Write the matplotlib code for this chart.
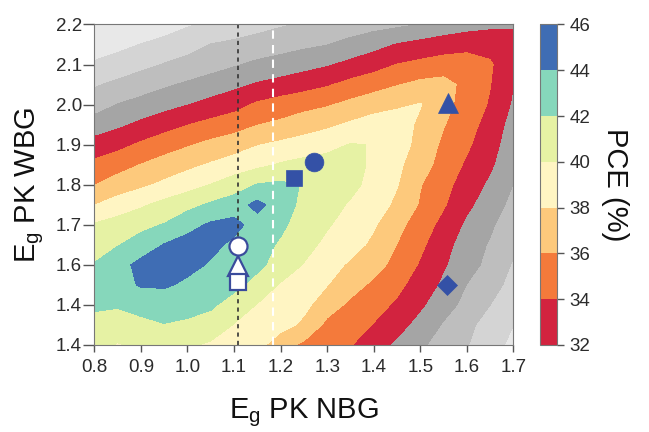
import numpy as np
import matplotlib
matplotlib.use('Agg')
import matplotlib.pyplot as plt
from matplotlib.colors import ListedColormap, BoundaryNorm
from matplotlib.cm import ScalarMappable

plt.rcParams['font.family'] = ['Liberation Sans', 'DejaVu Sans']
plt.rcParams['mathtext.fontset'] = 'custom'
plt.rcParams['mathtext.rm'] = 'Liberation Sans'
plt.rcParams['mathtext.it'] = 'Liberation Sans'

# Сетка ширин запрещённой зоны (эВ)
eg_nbg = [0.8, 0.85, 0.9, 0.95, 1.0, 1.05, 1.1, 1.15, 1.2, 1.25,
          1.3, 1.35, 1.4, 1.45, 1.5, 1.55, 1.6, 1.65, 1.7]
eg_wbg = [1.4, 1.45, 1.5, 1.55, 1.6, 1.65, 1.7, 1.75, 1.8,
          1.85, 1.9, 1.95, 2.0, 2.05, 2.1, 2.15, 2.2]

# КПД (%) по строкам eg_wbg, столбцам eg_nbg
pce = [
    [41.0, 39.8, 40.6, 40.7, 40.3, 39.7, 39.2, 38.7, 36.8, 35.6, 34.9, 34.1, 32.9, 31.6, 30.4, 29.0, 28.1, 26.8, 25.5],
    [41.6, 41.5, 41.7, 41.95, 41.8, 41.2, 39.9, 39.1, 38.7, 37.6, 35.5, 34.8, 33.9, 32.7, 31.3, 29.8, 28.6, 27.0, 26.0],
    [42.2, 42.1, 42.4, 42.6, 42.4, 42.3, 41.2, 39.9, 39.2, 38.5, 36.9, 35.6, 34.7, 33.7, 32.3, 30.8, 29.4, 28.0, 26.8],
    [42.5, 43.2, 44.2, 44.3, 43.6, 43.0, 42.5, 41.4, 39.8, 38.9, 38.05, 36.8, 35.6, 34.5, 33.1, 31.6, 29.95, 28.7, 27.4],
    [42.1, 43.2, 44.6, 45.0, 44.6, 43.8, 43.1, 42.4, 41.3, 39.9, 38.8, 37.7, 36.8, 35.3, 33.8, 32.2, 30.8, 29.4, 27.8],
    [41.2, 41.9, 42.8, 44.1, 44.8, 44.5, 43.6, 42.6, 41.8, 40.7, 39.5, 38.7, 37.6, 35.95, 34.4, 32.7, 31.0, 29.8, 28.5],
    [40.2, 40.8, 41.5, 42.1, 43.3, 44.3, 44.6, 43.2, 42.3, 41.3, 40.2, 39.2, 38.2, 36.6, 35.0, 33.4, 31.6, 30.3, 28.8],
    [37.95, 38.9, 39.7, 40.6, 41.4, 42.3, 43.0, 44.6, 42.9, 41.5, 40.7, 39.8, 38.9, 37.6, 35.8, 34.2, 32.4, 31.0, 29.4],
    [35.95, 36.9, 37.6, 38.4, 39.2, 40.05, 41.0, 42.1, 42.4, 41.9, 41.2, 40.5, 39.4, 38.1, 36.1, 34.6, 33.1, 31.6, 29.95],
    [34.5, 35.2, 36.05, 36.8, 37.5, 38.2, 38.9, 39.5, 40.2, 40.6, 40.8, 40.6, 39.7, 38.4, 36.9, 35.2, 33.7, 32.3, 30.5],
    [32.7, 33.4, 34.3, 35.1, 35.8, 36.5, 37.1, 37.9, 38.4, 38.9, 39.4, 40.1, 39.95, 39.0, 37.3, 35.6, 34.3, 32.8, 30.8],
    [31.0, 31.6, 32.4, 33.2, 33.95, 34.6, 35.1, 35.95, 36.4, 37.0, 37.6, 38.3, 38.9, 39.0, 37.6, 36.1, 34.8, 33.2, 31.2],
    [29.0, 30.05, 30.7, 31.3, 31.95, 32.6, 33.3, 34.3, 34.9, 35.4, 35.8, 36.5, 37.2, 37.7, 38.1, 36.6, 35.2, 33.8, 31.7],
    [27.8, 28.4, 29.0, 29.7, 30.3, 30.9, 31.5, 32.2, 32.7, 33.2, 33.8, 34.6, 35.2, 35.9, 36.5, 36.7, 35.4, 34.05, 32.05],
    [26.3, 26.9, 27.5, 28.1, 28.6, 29.2, 29.8, 30.4, 30.8, 31.3, 31.8, 32.5, 33.2, 34.05, 34.5, 34.9, 35.0, 34.2, 32.6],
    [24.8, 25.4, 26.05, 26.6, 27.3, 28.05, 28.4, 28.8, 29.2, 29.6, 29.95, 30.6, 31.3, 32.1, 32.6, 33.0, 33.3, 33.4, 33.0],
    [23.3, 24.0, 24.6, 25.1, 25.8, 26.3, 26.8, 27.3, 27.8, 28.2, 28.6, 28.9, 29.3, 29.6, 30.05, 30.7, 31.2, 31.5, 31.7],
]

levels = [20, 26, 28, 30, 32, 34, 36, 38, 40, 42, 44, 46]
gray_colors = ['#e8e8e8', '#d4d4d4', '#bebebe', '#a5a5a5']
pce_colors = ['#d2233f', '#f47a3b', '#fdc97c', '#fff5c3', '#e6f2a4', '#86d7bb', '#3f6db4']
cb_ticks = [32, 34, 36, 38, 40, 42, 44, 46]

# Отмеченные устройства
blue_x = [1.56, 1.272, 1.229, 1.557]
blue_y = [2.003, 1.856, 1.816, 1.55]
blue_marks = ['^', 'o', 's', 'D']
blue_sizes = [14.5, 13.5, 11.5, 10.5]
white_x = [1.108, 1.108, 1.108]
white_y = [1.647, 1.597, 1.556]
white_marks = ['o', '^', 's']
white_sizes = [13, 14, 11.5]

nbg_dotted = 1.108
nbg_dashed = 1.183

xticks = [0.8, 0.9, 1.0, 1.1, 1.2, 1.3, 1.4, 1.5, 1.6, 1.7]
yticks = [1.4, 1.5, 1.6, 1.7, 1.8, 1.9, 2.0, 2.1, 2.2]
ytick_labels = ['1.4', '1.4', '1.6', '1.7', '1.8', '1.9', '2.0', '2.1', '2.2']

txt = '#2b2b2b'
fig = plt.figure(figsize=(6.49, 4.32), dpi=100)
ax = fig.add_axes([0.1453, 0.2014, 0.6459, 0.7419])

ax.contourf(eg_nbg, eg_wbg, np.array(pce), levels=levels, colors=gray_colors + pce_colors)

ax.axvline(nbg_dotted, color='#333333', lw=1.2, linestyle=(0, (2.5, 2.5)))
ax.axvline(nbg_dashed, color='white', lw=1.5, linestyle=(0, (4, 3)))

for x, y, m, s in zip(blue_x, blue_y, blue_marks, blue_sizes):
    ax.plot(x, y, m, ms=s, color='#3451a6', mec='#3451a6', mew=0.5)
for x, y, m, s in zip(white_x, white_y, white_marks, white_sizes):
    ax.plot(x, y, m, ms=s, mfc='white', mec='#3a4b9c', mew=1.6)

ax.set_xlim(0.8, 1.7)
ax.set_ylim(1.4, 2.2)
ax.set_xticks(xticks)
ax.set_xticklabels([f'{v:.1f}' for v in xticks])
ax.set_yticks(yticks)
ax.set_yticklabels(ytick_labels)
ax.tick_params(axis='x', direction='out', length=5, width=1, color='#555555',
               labelsize=13.5, labelcolor=txt, pad=5)
ax.tick_params(axis='y', direction='out', length=8, width=1, color='#555555',
               labelsize=13.5, labelcolor=txt, pad=1)
for sp in ax.spines.values():
    sp.set_color('#777777')
    sp.set_linewidth(0.8)

ax.set_xlabel(r'$\mathregular{E_g}$ PK NBG', fontsize=21, color='#111111', labelpad=15)
ax.set_ylabel(r'$\mathregular{E_g}$ PK WBG', fontsize=21, color='#111111', labelpad=7)

# Цветовая шкала
cax = fig.add_axes([0.832, 0.2014, 0.0262, 0.7419])
sm = ScalarMappable(norm=BoundaryNorm(cb_ticks, len(pce_colors)), cmap=ListedColormap(pce_colors))
cb = fig.colorbar(sm, cax=cax, ticks=cb_ticks)
cb.outline.set_edgecolor('#777777')
cb.outline.set_linewidth(0.8)
cax.tick_params(direction='out', length=5, width=1, color='#555555',
                labelsize=13.5, labelcolor=txt, pad=4)
cb.set_label('PCE (%)', rotation=270, fontsize=21, color='#111111', labelpad=28)

fig.savefig('out.png', dpi=100)
